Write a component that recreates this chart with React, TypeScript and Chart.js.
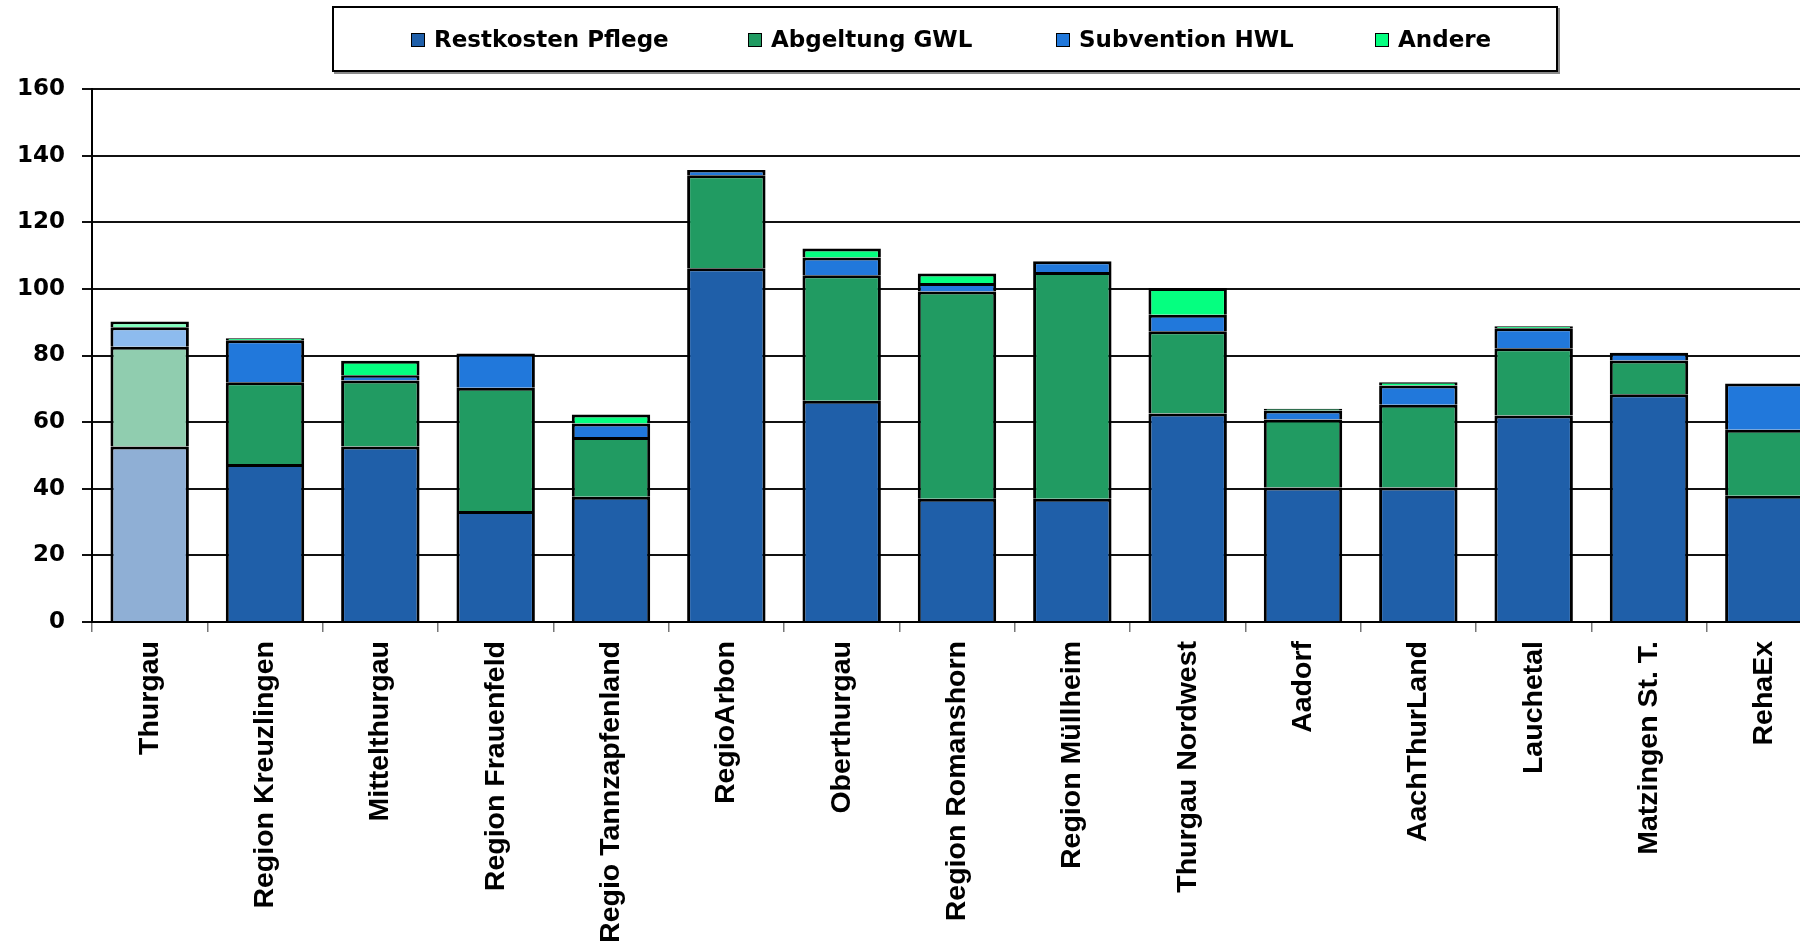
import { useEffect, useRef } from 'react';
import { Chart, registerables } from 'chart.js';

Chart.register(...registerables);

const categories = [
  'Thurgau',
  'Region Kreuzlingen',
  'Mittelthurgau',
  'Region Frauenfeld',
  'Regio Tannzapfenland',
  'RegioArbon',
  'Oberthurgau',
  'Region Romanshorn',
  'Region Müllheim',
  'Thurgau Nordwest',
  'Aadorf',
  'AachThurLand',
  'Lauchetal',
  'Matzingen St. T.',
  'RehaEx',
];

const restkostenPflege = [52.7, 47.4, 52.7, 33.3, 37.6, 106.2, 66.4, 37.0, 37.0, 62.6, 40.4, 40.4, 62.0, 68.4, 37.9];
const abgeltungGWL = [29.9, 24.6, 19.8, 37.0, 17.9, 27.9, 37.7, 62.2, 68.1, 24.7, 20.4, 24.8, 20.2, 10.1, 19.8];
const subventionHWL = [5.9, 12.6, 1.6, 10.3, 4.1, 1.6, 5.3, 2.6, 3.2, 4.9, 2.7, 5.8, 6.0, 2.3, 13.9];
const andere = [1.7, 0.6, 4.3, 0, 2.7, 0, 2.7, 2.8, 0, 8.1, 0.5, 1.0, 0.6, 0, 0];

const seriesNames = ['Restkosten Pflege', 'Abgeltung GWL', 'Subvention HWL', 'Andere'];
const seriesValues = [restkostenPflege, abgeltungGWL, subventionHWL, andere];
const seriesColors = ['#1F5FA9', '#219B62', '#2178DB', '#05FF80'];
const highlightColors = ['#8FAFD5', '#90CDAF', '#8DBBEE', '#80FFBF'];

const yMin = 0;
const yMax = 160;
const yStep = 20;

// legend item x positions (page pixels): square left
const legendSquareX = [411, 748, 1056, 1375];

export default function App() {
  const canvasRef = useRef<HTMLCanvasElement | null>(null);

  useEffect(() => {
    const canvas = canvasRef.current;
    if (!canvas) return;
    const chart = new Chart(canvas, {
      type: 'bar',
      data: {
        labels: categories,
        datasets: seriesValues.map((vals, i) => ({
          label: seriesNames[i],
          data: vals,
          backgroundColor: vals.map((_, j) => (j === 0 ? highlightColors[i] : seriesColors[i])),
          borderColor: '#000',
          borderWidth: 3,
          inflateAmount: 0,
          barPercentage: 0.68,
          categoryPercentage: 1,
        })),
      },
      options: {
        responsive: false,
        animation: false,
        devicePixelRatio: 1,
        layout: { padding: { top: 89, right: 0, left: 0, bottom: 0 } },
        plugins: {
          legend: { display: false },
          tooltip: { enabled: false },
        },
        scales: {
          x: {
            stacked: true,
            grid: {
              drawOnChartArea: false,
              drawTicks: true,
              tickLength: 10,
              color: '#777',
              lineWidth: 1.5,
            },
            border: { color: '#000', width: 2 },
            ticks: {
              color: '#000',
              font: { family: '"Liberation Sans", Arial, sans-serif', size: 28.5, weight: 'bold' },
              maxRotation: 90,
              minRotation: 90,
              autoSkip: false,
              padding: 9,
            },
            afterFit: (s: any) => {
              s.height = 325;
            },
          },
          y: {
            stacked: true,
            min: yMin,
            max: yMax,
            ticks: {
              stepSize: yStep,
              color: '#000',
              font: { family: '"DejaVu Sans", sans-serif', size: 23, weight: 'bold' },
              padding: 17,
            },
            grid: {
              color: '#111',
              lineWidth: 2,
              tickLength: 10,
            },
            border: { color: '#000', width: 2 },
            afterFit: (s: any) => {
              s.width = 92;
            },
          },
        },
      },
    });
    return () => chart.destroy();
  }, []);

  return (
    <div
      style={{
        position: 'fixed',
        left: 0,
        top: 0,
        width: 1800,
        height: 947,
        overflow: 'hidden',
        background: '#fff',
      }}
    >
      <canvas ref={canvasRef} width={1822} height={947} style={{ position: 'absolute', left: 0, top: 0 }} />
      <div
        style={{
          position: 'absolute',
          left: 332,
          top: 6,
          width: 1226,
          height: 66,
          boxSizing: 'border-box',
          border: '2px solid #000',
          boxShadow: '2px 2px 0 #8a8a8a',
          background: '#fff',
        }}
      >
        {seriesNames.map((name, i) => (
          <div
            key={name}
            style={{
              position: 'absolute',
              left: legendSquareX[i] - 334,
              top: 0,
              height: 62,
              display: 'flex',
              alignItems: 'center',
              whiteSpace: 'nowrap',
            }}
          >
            <span
              style={{
                display: 'inline-block',
                width: 14,
                height: 14,
                boxSizing: 'border-box',
                border: '1.5px solid #000',
                background: seriesColors[i],
                marginRight: 9,
                marginTop: 1,
              }}
            />
            <span
              style={{
                fontFamily: '"DejaVu Sans", sans-serif',
                fontWeight: 'bold',
                fontSize: 23,
                color: '#000',
              }}
            >
              {name}
            </span>
          </div>
        ))}
      </div>
    </div>
  );
}
